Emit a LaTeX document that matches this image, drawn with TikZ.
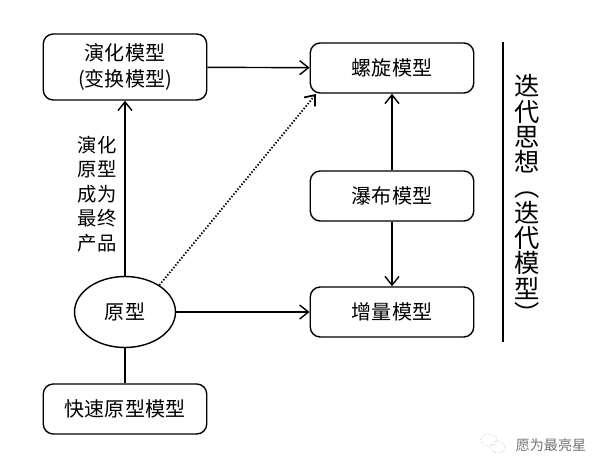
\documentclass[tikz,border=0pt]{standalone}
\usepackage{fontspec}
\setmainfont{Noto Sans CJK SC}
\usetikzlibrary{arrows.meta, shapes.geometric}

\tikzset{
    modelbox/.style={draw, rounded corners=.2cm, line width=.8pt, minimum width=3.27cm, minimum height=1cm, inner sep=0pt, align=center},
    modelarrow/.style={-{Straight Barb[length=5pt, width=8pt]}, line width=.8pt},
}

\begin{document}
\begin{tikzpicture}[x=.02cm, y=-.02cm, font=\fontsize{11.4pt}{14.7pt}\selectfont]

    \useasboundingbox (0,0) rectangle (605,470);

    % ==========================================
    % MODEL BOXES
    % ==========================================
    \node[modelbox, minimum height=1.32cm] (evolve) at (125,67) {演化模型\\(变换模型)};
    \node[modelbox] (quick) at (125,409) {快速原型模型};
    \node[modelbox] (spiral) at (392,68) {螺旋模型};
    \node[modelbox] (waterfall) at (392,196) {瀑布模型};
    \node[modelbox] (incremental) at (392,312) {增量模型};

    % Prototype in the middle of the left column
    \node[draw, ellipse, line width=.8pt, minimum width=2.02cm, minimum height=1.42cm, inner sep=0pt] (proto) at (125,312) {原型};

    % Point just below the corner of the spiral box, end of the dotted line
    \coordinate (spiral_end) at (316,94);

    % ==========================================
    % CONNECTORS
    % ==========================================
    \draw[modelarrow] (evolve) -- (spiral);
    \draw[modelarrow] (proto) -- (evolve);
    \draw[modelarrow] (proto) -- (incremental);
    \draw[modelarrow] (waterfall) -- (spiral);
    \draw[modelarrow] (waterfall) -- (incremental);
    \draw[line width=.8pt] (quick) -- (proto);
    \draw[modelarrow, densely dotted, line width=1pt] (proto.38) -- (spiral_end);

    % Label beside the upward arrow
    \node[align=center, font=\fontsize{11pt}{13.9pt}\selectfont] (final_label) at (97,194) {演化\\原型\\成为\\最终\\产品};

    % ==========================================
    % RIGHT SIDE: RULE AND VERTICAL TITLE
    % ==========================================
    \coordinate (rule_top) at (503,42);
    \coordinate (rule_bottom) at (503,342);
    \draw[line width=1.1pt] (rule_top) -- (rule_bottom);

    \node[align=center, inner sep=0pt, font=\fontsize{14.4pt}{14.4pt}\selectfont] (side_title) at (527,199) {迭\\代\\思\\想\\︵\\迭\\代\\模\\型\\︶};

    % ==========================================
    % ACCOUNT MARK (BOTTOM RIGHT)
    % ==========================================
    \draw[black!25, densely dotted] (489,440) ellipse (8 and 6);
    \draw[black!25, densely dotted] (498,447) ellipse (7 and 6);
    \node[text=black!55, font=\fontsize{8pt}{10pt}\selectfont, inner sep=0pt] (account) at (551,445) {愿为最亮星};

\end{tikzpicture}
\end{document}
